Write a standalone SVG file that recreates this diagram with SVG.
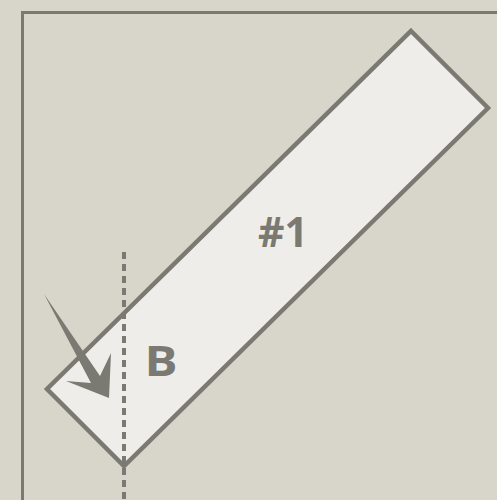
<svg xmlns="http://www.w3.org/2000/svg" width="497" height="500" viewBox="0 0 497 500">
<style>
.lbl{font-family:"Open Sans","Liberation Sans",sans-serif;font-weight:bold;font-size:41px;fill:#7a7a72}
.ln{stroke:#7a7a72;fill:none}
</style>
<rect width="497" height="500" fill="#d8d6cb"/>
<path class="ln" d="M22.5,500 V12.5 H497" stroke-width="3"/>
<g id="board">
<polygon points="411,31 488,108 124,466 47,389" fill="#efedea" stroke="#7a7a72" stroke-width="4.5" stroke-linejoin="miter"/>
<text class="lbl" x="258" y="246.5">#1</text>
<text class="lbl" x="145.3" y="376" transform="translate(149,0) scale(1.2,1) translate(-149,0)">B</text>
</g>
<g id="connectors">
<line class="ln" x1="124" y1="252" x2="124" y2="500" stroke-width="4" stroke-dasharray="7,5"/>
<polygon points="44,294 100,376 111,353 109,398 66,381 91,383" fill="#7a7a72"/>
</g>
</svg>
